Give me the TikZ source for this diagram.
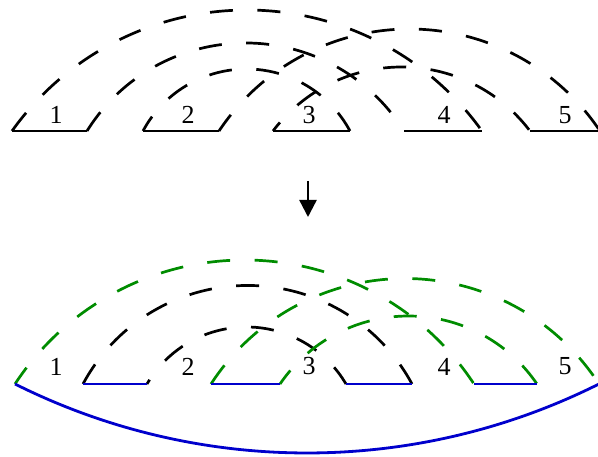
\documentclass[tikz,border=0pt]{standalone}
\usepackage{fontspec}
\setmainfont{Liberation Serif}
\usetikzlibrary{arrows.meta}
\definecolor{dgreen}{RGB}{0,140,0}
\definecolor{dblue}{RGB}{0,0,204}
% circular arc above a base line: #1 style, #2 start coordinate, #3 x1, #4 x2, #5 height
\newcommand\circarc[5]{%
  \pgfmathsetmacro\hcx{(#4-#3)/20}%
  \pgfmathsetmacro\hhx{#5/10}%
  \pgfmathsetmacro\Rx{10*(\hcx*\hcx+\hhx*\hhx)/(2*\hhx)}%
  \pgfmathsetmacro\bex{acos(10*\hcx/\Rx)}%
  \draw[#1] (#2) arc[start angle={180-\bex}, end angle={\bex}, radius=\Rx];}
\begin{document}
\begin{tikzpicture}[x=1pt,y=1pt,
  seg/.style={line width=2.8pt},
  arcd/.style={line width=2.7pt, dash pattern=on 23pt off 24.5pt},
  lab/.style={font=\fontsize{26}{26}\selectfont, inner sep=0pt}]
\useasboundingbox (0,0) rectangle (598,456);
% ---------- top ----------
\coordinate (a1) at (12,325);  \coordinate (b1) at (87,325);
\coordinate (a2) at (143,325); \coordinate (b2) at (219,325);
\coordinate (a3) at (273,325); \coordinate (b3) at (350,325);
\coordinate (a4) at (404,325); \coordinate (b4) at (482,325);
\coordinate (a5) at (530,325); \coordinate (b5) at (600,325);
\draw[seg] (a1) -- (b1);
\draw[seg] (a2) -- (b2);
\draw[seg] (a3) -- (b3);
\draw[seg] (a4) -- (b4);
\draw[seg] (a5) -- (b5);
\circarc{arcd}{a1}{12}{482}{121}
\circarc{arcd}{b1}{87}{404}{88}
\circarc{arcd,dash phase=3pt}{b2}{219}{600}{102}
\circarc{arcd,dash phase=6pt}{a2}{143}{350}{62}
\circarc{arcd,dash phase=12pt}{a3}{273}{530}{64}
\node[lab] (t1) at (56,341) {1};
\node[lab] (t2) at (188,341) {2};
\node[lab] (t3) at (309,341) {3};
\node[lab] (t4) at (444,341) {4};
\node[lab] (t5) at (565,341) {5};
% ---------- arrow ----------
\coordinate (arrS) at (308,275);
\coordinate (arrE) at (308,239);
\draw[line width=2.4pt, -{Triangle[width=17pt,length=17pt]}] (arrS) -- (arrE);
% ---------- bottom ----------
\coordinate (c1) at (15,72);
\coordinate (d1) at (83,72);  \coordinate (c2) at (147,72);
\coordinate (d2) at (211,72); \coordinate (c3) at (280,72);
\coordinate (d3) at (346,72); \coordinate (c4) at (412,72);
\coordinate (d4) at (474,72); \coordinate (c5) at (537,72);
\coordinate (d5) at (599,72);
\circarc{arcd}{d1}{83}{412}{98.5}
\circarc{arcd,dash phase=18pt}{c2}{147}{346}{57}
\circarc{arcd,dgreen,dash phase=3pt}{c1}{15}{474}{124}
\circarc{arcd,dgreen}{d2}{211}{599}{105.5}
\circarc{arcd,dgreen,dash phase=6pt}{c3}{280}{537}{68}
\draw[seg,dblue] (d1) -- (c2);
\draw[seg,dblue] (d2) -- (c3);
\draw[seg,dblue] (d3) -- (c4);
\draw[seg,dblue] (d4) -- (c5);
\pgfmathsetmacro\Rb{10*(29.2*29.2+6.9*6.9)/(2*6.9)}
\pgfmathsetmacro\bb{acos(292/\Rb)}
\draw[seg,dblue] (c1) arc[start angle={180+\bb}, end angle={360-\bb}, radius=\Rb];
\node[lab] (u1) at (56,89.5) {1};
\node[lab] (u2) at (188,89.5) {2};
\node[lab] (u3) at (309,89.5) {3};
\node[lab] (u4) at (444,89.5) {4};
\node[lab] (u5) at (565,89.5) {5};
\end{tikzpicture}
\end{document}
